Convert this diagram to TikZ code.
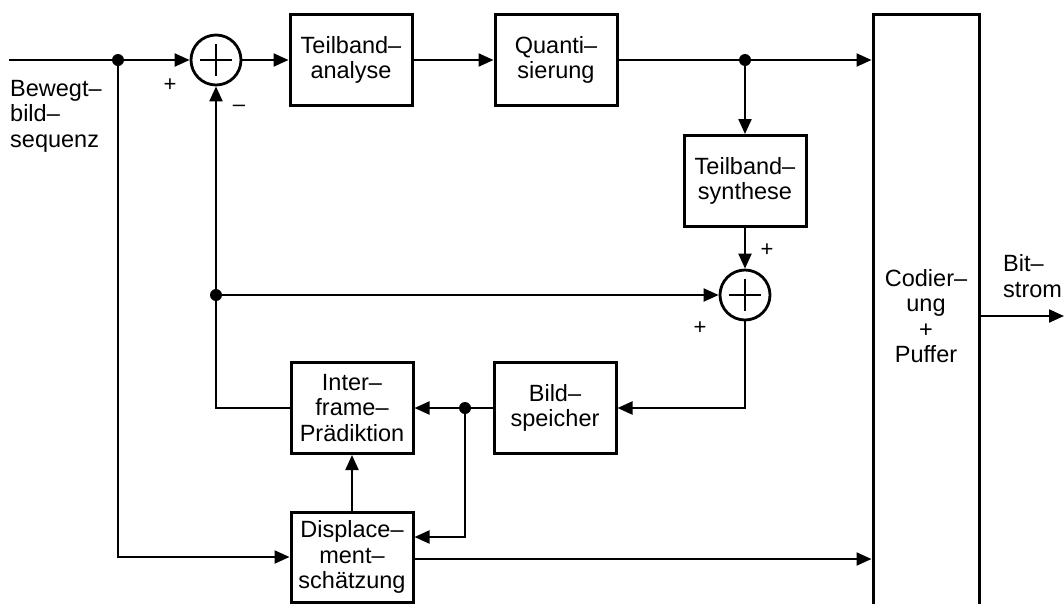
\documentclass[tikz,border=0pt]{standalone}
\usepackage{fontspec}
\setmainfont{Liberation Sans}
\usetikzlibrary{arrows.meta,calc}
\begin{document}
\begin{tikzpicture}[x=1pt,y=-1pt,
  blk/.style={draw, line width=3pt, minimum width=122pt, minimum height=91pt, inner sep=0pt, align=center, font=\fontsize{23.5}{25.5}\selectfont},
  sumnode/.style={draw, circle, line width=2.8pt, minimum size=50pt, inner sep=0pt},
  con/.style={line width=2.2pt},
  arr/.style={con, -{Triangle[length=15pt,width=13pt]}},
  dotn/.style={circle, fill, inner sep=0pt, minimum size=12pt},
  sgn/.style={font=\fontsize{22}{22}\selectfont, inner sep=0pt},
  lbl/.style={font=\fontsize{23.5}{25.5}\selectfont, align=left, inner sep=0pt}]
\useasboundingbox (0,0) rectangle (1064,603);

% blocks
\node[blk] (ta) at (351,60) {Teilband--\\analyse};
\node[blk] (qu) at (556,60) {Quanti--\\sierung};
\node[blk] (ts) at (745,181) {Teilband--\\synthese};
\node[blk] (ip) at (352,408) {Inter--\\frame--\\Prädiktion};
\node[blk] (bs) at (555,408) {Bild--\\speicher};
\node[blk, minimum height=90pt] (ds) at (352,557) {Displace--\\ment--\\schätzung};
\node[draw, line width=3pt, minimum width=106pt, minimum height=620pt, anchor=north, inner sep=0pt] (cod) at (926,13) {};
\node[lbl, align=center] (codt) at (926,316) {Codier--\\ung\\+\\Puffer};

% summing points
\node[sumnode] (s1) at (216,60) {};
\node[sumnode] (s2) at (745,295) {};
\foreach \s in {s1,s2}{
  \draw[line width=2.4pt] ([xshift=-16pt]\s.center) -- ([xshift=16pt]\s.center);
  \draw[line width=2.4pt] ([yshift=-16pt]\s.center) -- ([yshift=16pt]\s.center);
}

% junctions
\node[dotn] (d1) at (118,60) {};
\node[dotn] (d2) at (745,60) {};
\node[dotn] (d3) at (216,295) {};
\node[dotn] (d4) at (465,408) {};
\coordinate (in) at (9,60);
\coordinate (out) at (1064,316);
\coordinate (dsin) at ([yshift=20pt]ds.east);
\coordinate (dsout) at ([yshift=-2pt]ds.east);

% connectors
\draw[arr] (in) -- (s1.west);
\draw[arr] (d1) |- (ds.west);
\draw[arr] (s1.east) -- (ta.west);
\draw[arr] (ta.east) -- (qu.west);
\draw[arr] (qu.east) -- (cod.west |- qu.east);
\draw[arr] (d2) -- (ts.north);
\draw[arr] (ts.south) -- (s2.north);
\draw[arr] (d3) -- (s2.west);
\draw[arr] (s2.south) |- (bs.east);
\draw[arr] (bs.west) -- (ip.east);
\draw[arr] (d4) |- (dsin);
\draw[arr] (ip.west) -| (s1.south);
\draw[arr] (ds.north) -- (ip.south);
\draw[arr] (dsout) -- (cod.west |- dsout);
\draw[arr] (cod.east |- out) -- (out);

% signs
\node[sgn] (p1) at (170,85) {+};
\node[sgn] (m1) at (239,108) {--};
\node[sgn] (p2) at (767,250) {+};
\node[sgn] (p3) at (700,328) {+};

% labels
\node[lbl, anchor=north west] (inl) at (10,80) {Bewegt--\\bild--\\sequenz};
\node[lbl, anchor=west] (outl) at (1003,276) {Bit--\\strom};
\end{tikzpicture}
\end{document}
